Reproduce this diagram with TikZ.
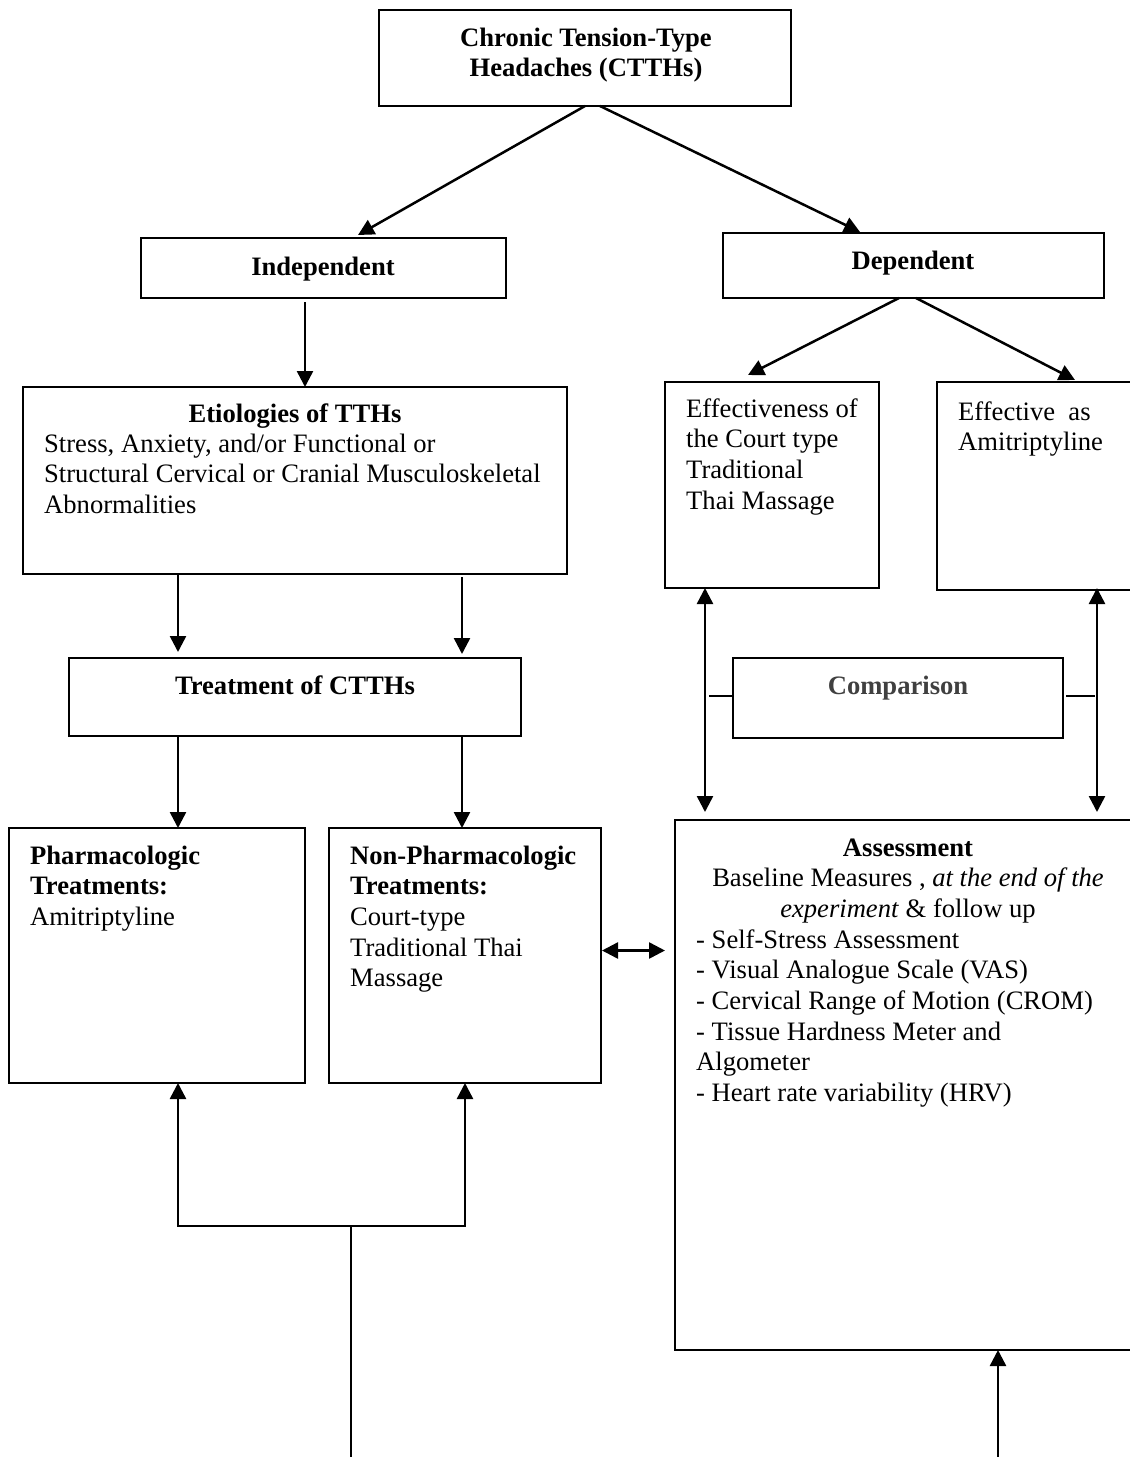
\documentclass[tikz,border=0pt]{standalone}
\usepackage{fontspec}
\setmainfont{Liberation Serif}
\usetikzlibrary{arrows.meta,calc}
\newcommand{\fs}{\fontsize{26.6}{30.6}\selectfont}
\tikzset{
  bx/.style={draw=black,line width=1.9pt,fill=white,inner sep=0pt,outer sep=0pt,anchor=north west},
  tl/.style={inner sep=0pt,anchor=north west,align=left,text=black,font=\fs},
  tc/.style={inner sep=0pt,anchor=north,align=center,text=black,font=\fs},
  tb/.style={tc,font=\fs\bfseries},
  arr/.style={line width=2.5pt,-{Triangle[length=16pt,width=16pt]}},
  dbl/.style={line width=2.5pt,{Triangle[length=16pt,width=16pt]}-{Triangle[length=16pt,width=16pt]}},
  thin line/.style={line width=1.6pt},
  plain line/.style={line width=2.3pt,line cap=rect}
}
\newcommand{\fl}{\rule{0pt}{20pt}}
% \mybox{name}{x1}{y1}{w}{h}
\newcommand{\mybox}[5]{\node[bx,minimum width=#4pt,minimum height=#5pt] (#1) at (#2,#3) {};}
\begin{document}
\begin{tikzpicture}[x=1pt,y=-1pt]
\useasboundingbox (0,0) rectangle (1130,1457);
\clip (0,0) rectangle (1130,1457);
\mybox{root}{379}{10}{412}{96}
\mybox{indep}{141}{238}{365}{60}
\mybox{dep}{723}{233}{381}{65}
\mybox{etio}{23}{387}{544}{187}
\mybox{eff}{665}{382}{214}{206}
\mybox{amit}{937}{382}{210}{208}
\mybox{comp}{733}{658}{330}{80}
\mybox{treat}{69}{658}{452}{78}
\mybox{pharm}{9}{828}{296}{255}
\mybox{nonph}{329}{828}{272}{255}
\mybox{assess}{675}{820}{470}{530}

\node[tb] (troot) at (586,26) {\fl Chronic Tension-Type\\Headaches (CTTHs)};
\node[tb] (tindep) at (323,255) {\fl Independent};
\node[tb] (tdep) at (913,249) {\fl Dependent};
\node[tb] (tetio) at (295,402) {\fl Etiologies of TTHs};
\node[tl] (tetiob) at (44,432) {\fl Stress, Anxiety, and/or Functional or\\Structural Cervical or Cranial Musculoskeletal\\Abnormalities};
\node[tl] (teff) at (686,397) {\fl Effectiveness of\\the Court type\\Traditional\\Thai Massage};
\node[tl] (tamit) at (958,400) {\fl Effective\ \ as\\Amitriptyline};
\node[tb,text=black!75] (tcomp) at (898,674) {\fl Comparison};
\node[tb] (ttreat) at (295,674) {\fl Treatment of CTTHs};
\node[tl] (tpharm) at (30,844) {\fl\textbf{Pharmacologic}\\\textbf{Treatments:}\\Amitriptyline};
\node[tl] (tnon) at (350,844) {\fl\textbf{Non-Pharmacologic}\\\textbf{Treatments:}\\Court-type\\Traditional Thai\\Massage};
\node[tc] (tass) at (908,836) {\fl\textbf{Assessment}\\Baseline Measures , \textit{at the end of the}\\\textit{experiment} \& follow up};
\node[tl] (tassl) at (696,928) {\fl - Self-Stress Assessment\\- Visual Analogue Scale (VAS)\\- Cervical Range of Motion (CROM)\\- Tissue Hardness Meter and\\Algometer\\- Heart rate variability (HRV)};

\coordinate (joint) at ($(pharm.south west)+(342,143)$);
\coordinate (bottomL) at ($(joint)+(0,231)$);
\coordinate (bottomR) at ($(assess.south west)+(323,107)$);
\coordinate (jl) at ($(pharm.south west)+(169,143)$);
\coordinate (jr) at ($(nonph.south west)+(136,143)$);

\draw[arr] ($(root.south west)+(206,0)$) -- ($(indep.north west)+(217,-3)$);
\draw[arr] ($(root.south west)+(221,0)$) -- ($(dep.north west)+(137,-1)$);
\draw[arr] ($(indep.south west)+(164,4)$) -- ($(etio.north west)+(282,0)$);
\draw[arr] ($(dep.south west)+(176,0)$) -- ($(eff.north west)+(83,-7)$);
\draw[arr] ($(dep.south west)+(193,0)$) -- ($(amit.north west)+(138,-2)$);
\draw[arr] ($(etio.south west)+(155,0)$) -- ($(treat.north west)+(109,-6)$);
\draw[arr] ($(etio.south west)+(439,3)$) -- ($(treat.north west)+(393,-4)$);
\draw[arr] ($(treat.south west)+(109,0)$) -- ($(pharm.north west)+(169,0)$);
\draw[arr] ($(treat.south west)+(393,0)$) -- ($(nonph.north west)+(133,0)$);
\draw[dbl] ($(eff.south west)+(40,0)$) -- ($(assess.north west)+(30,-8)$);
\draw[dbl] ($(amit.south west)+(160,-2)$) -- ($(assess.north west)+(422,-8)$);
\draw[thin line] ($(comp.west)+(-24,-2)$) -- ($(comp.west)+(0,-2)$);
\draw[thin line] ($(comp.east)+(3,-2)$) -- ($(comp.east)+(32,-2)$);
\draw[dbl] ($(nonph.east)+(1,-5)$) -- ($(assess.west |- nonph.east)+(-10,-5)$);
\draw[arr] (jl) -- ($(pharm.south west)+(169,0)$);
\draw[arr] (jr) -- ($(nonph.south west)+(136,0)$);
\draw[plain line] (jl) -- (jr);
\draw[plain line] (joint) -- (bottomL);
\draw[arr] (bottomR) -- ($(assess.south west)+(323,0)$);
\end{tikzpicture}
\end{document}
